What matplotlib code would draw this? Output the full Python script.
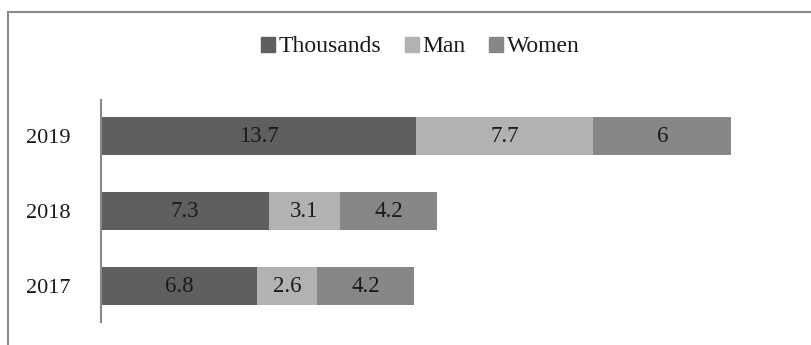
import matplotlib.pyplot as plt
from matplotlib.lines import Line2D
from matplotlib.patches import Patch
import numpy as np

plt.rcParams['font.family'] = ['Liberation Serif', 'DejaVu Serif']

years = ['2017', '2018', '2019']
thousands = [6.8, 7.3, 13.7]
man = [2.6, 3.1, 7.7]
women = [4.2, 4.2, 6]

series = [('Thousands', thousands, '#5f5f5f'),
          ('Man', man, '#b2b2b2'),
          ('Women', women, '#878787')]

W, H = 812, 345
fig = plt.figure(figsize=(W / 100, H / 100), dpi=100)
ax = fig.add_axes([101 / W, 23 / H, 690 / W, 222 / H])

y = np.arange(len(years))
left = np.zeros(len(years))
for name, vals, col in series:
    vals = np.array(vals, dtype=float)
    ax.barh(y, vals, left=left, height=0.51, color=col, label=name)
    for yi, l, v in zip(y, left, vals):
        ax.text(l + v / 2, yi, f'{v:g}', ha='center', va='center',
                fontsize=16.5, color='#1a1a1a')
    left += vals

ax.set_xlim(0, 30)
ax.set_ylim(-0.48, 2.48)
ax.set_yticks(y)
ax.set_yticklabels(years, fontsize=16, color='#1a1a1a')
ax.tick_params(axis='y', length=0, pad=22)
ax.set_xticks([])
for s in ['top', 'right', 'bottom']:
    ax.spines[s].set_visible(False)
ax.spines['left'].set_color('#8a8a8a')
ax.spines['left'].set_linewidth(1.5)

handles = [Patch(color=c, label=n) for n, _, c in series]
fig.legend(handles=handles, loc='center', bbox_to_anchor=(420 / W, 1 - 47 / H),
           ncol=3, frameon=False, fontsize=17, handlelength=0.6,
           handleheight=0.6, handletextpad=0.15, columnspacing=1.0,
           labelcolor='#1a1a1a')

# chart frame
fig.add_artist(Line2D([8 / W, 8 / W], [0, 1 - 12 / H], color='#8a8a8a', lw=1.5))
fig.add_artist(Line2D([8 / W, 1], [1 - 12 / H, 1 - 12 / H], color='#8a8a8a', lw=1.5))

fig.savefig('out.png', dpi=100)
